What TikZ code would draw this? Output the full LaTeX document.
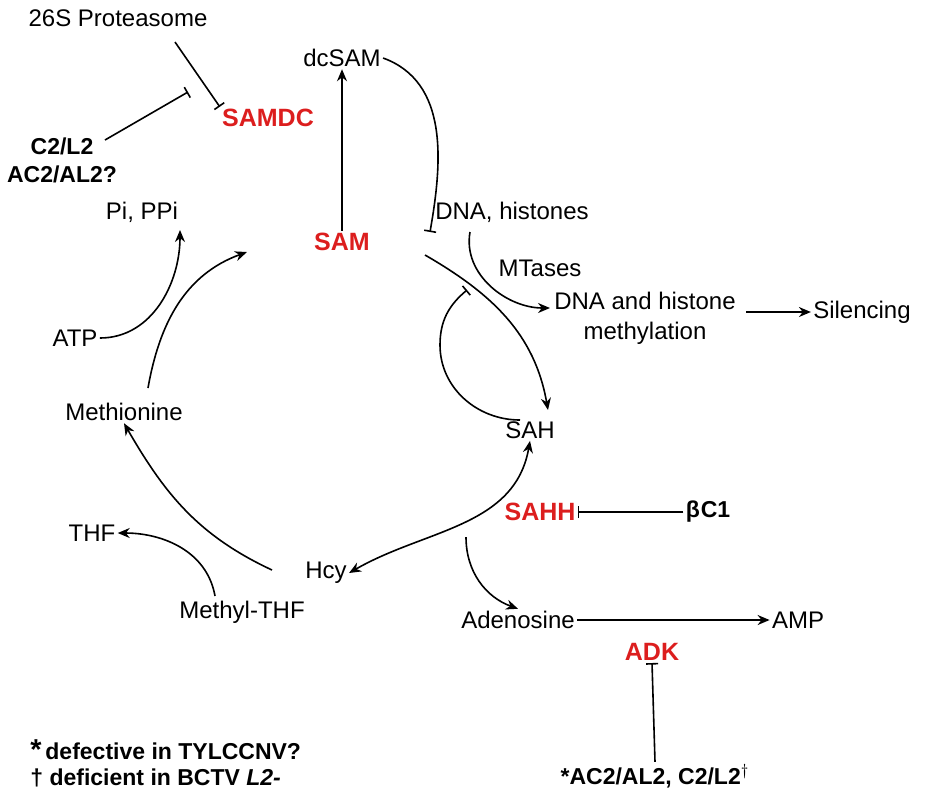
\documentclass[tikz,border=0pt]{standalone}
\usepackage{fontspec}
\setmainfont{Liberation Sans}
\usetikzlibrary{arrows.meta}
\definecolor{enzred}{RGB}{220,30,30}
\tikzset{
  lbl/.style={font=\fontsize{12}{15}\selectfont, inner sep=1pt},
  enz/.style={lbl, text=enzred, font=\fontsize{12.5}{15}\selectfont\bfseries},
  vir/.style={lbl, font=\fontsize{11.5}{14}\selectfont\bfseries},
  arr/.style={thick, -{Stealth[length=6pt,width=5pt]}},
  inh/.style={thick, -{Bar[width=6pt]}},
}
\begin{document}
\begin{tikzpicture}[x=0.5pt,y=-0.5pt]
\useasboundingbox (0,0) rectangle (925,800);

\node[lbl] (prot) at (118,18) {26S Proteasome};
\node[enz] (samdc) at (268,118) {SAMDC};
\node[vir, align=center] (ctwo) at (62,160) {C2/L2\\AC2/AL2?};
\node[lbl] (dcsam) at (342,58) {dcSAM};
\node[enz] (sam) at (342,242) {SAM};
\node[lbl] (pi) at (142,212) {Pi, PPi};
\node[lbl] (dna) at (512,212) {DNA, histones};
\node[lbl] (mtase) at (540,268) {MTases};
\node[lbl, align=center] (meth) at (645,318) {DNA and histone\\methylation};
\node[lbl] (sil) at (862,312) {Silencing};
\node[lbl] (atp) at (75,338) {ATP};
\node[lbl] (met) at (124,412) {Methionine};
\node[lbl] (sah) at (530,430) {SAH};
\node[enz] (sahh) at (540,512) {SAHH};
\node[vir] (bc) at (708,512) {β\kern0.5ptC1};
\node[lbl] (thf) at (92,533) {THF};
\node[lbl] (hcy) at (326,573) {Hcy};
\node[lbl] (mthf) at (242,612) {Methyl-THF};
\node[lbl] (ado) at (518,620) {Adenosine};
\node[lbl] (amp) at (798,620) {AMP};
\node[enz] (adk) at (652,652) {ADK};
\node[vir] (acl) at (655,776) {*AC2/AL2, C2/L2$^\dagger$};
\node[vir, anchor=west] (fa) at (28,750) {{\Large*}\,defective in TYLCCNV?};
\node[vir, anchor=west] (fb) at (28,778) {† deficient in BCTV \textit{L2-}};

\coordinate (p1) at (175,42);
\coordinate (c1) at (105,140);
\coordinate (c2) at (188,92);
\coordinate (d1) at (430,232);
\coordinate (m1) at (148,388);
\coordinate (s0) at (247,252);
\coordinate (a1) at (150,332);
\coordinate (pp) at (180,230);
\coordinate (s1) at (425,255);
\coordinate (h1) at (548,410);
\coordinate (n1) at (470,232);
\coordinate (n2) at (550,308);
\coordinate (q1) at (467,290);
\coordinate (r1) at (520,420);
\coordinate (h2) at (466,537);
\coordinate (y1) at (272,570);
\coordinate (t1) at (215,596);

% inhibitions at top
\draw[inh] (p1) -- (samdc.north west);
\draw[inh] (c1) -- (c2);
\draw[arr] (sam.north) -- (dcsam.south);
\draw[inh] (dcsam.east) to[out=-20,in=80] (d1);

% cycle
\draw[arr] (m1) to[out=80,in=200] (s0);
\draw[arr] (atp.east) to[out=0,in=-90] (pp);
\draw[arr] (s1) to[out=-30,in=100] (h1);
\draw[arr] (n1) to[out=-100,in=180] (n2);
\draw[inh] (r1) to[out=180,in=-90] (440,345) to[out=90,in=-140] (q1);
\draw[arr] (meth.east) ++(8,-6) -- (sil.west);
\draw[{Stealth[length=6pt,width=5pt]}-{Stealth[length=6pt,width=5pt]},thick] (sah.south) to[out=-100,in=30] (hcy.east);
\draw[arr] (h2) to[out=-90,in=160] (ado.north);
\draw[inh] (bc.west) -- (sahh.east);
\draw[arr] (y1) to[out=155,in=-60] (met.south);
\draw[arr] (t1) to[out=100,in=0] (thf.east);
\draw[arr] (ado.east) -- (amp.west);
\draw[inh] (acl.north) -- (adk.south);
\end{tikzpicture}
\end{document}
